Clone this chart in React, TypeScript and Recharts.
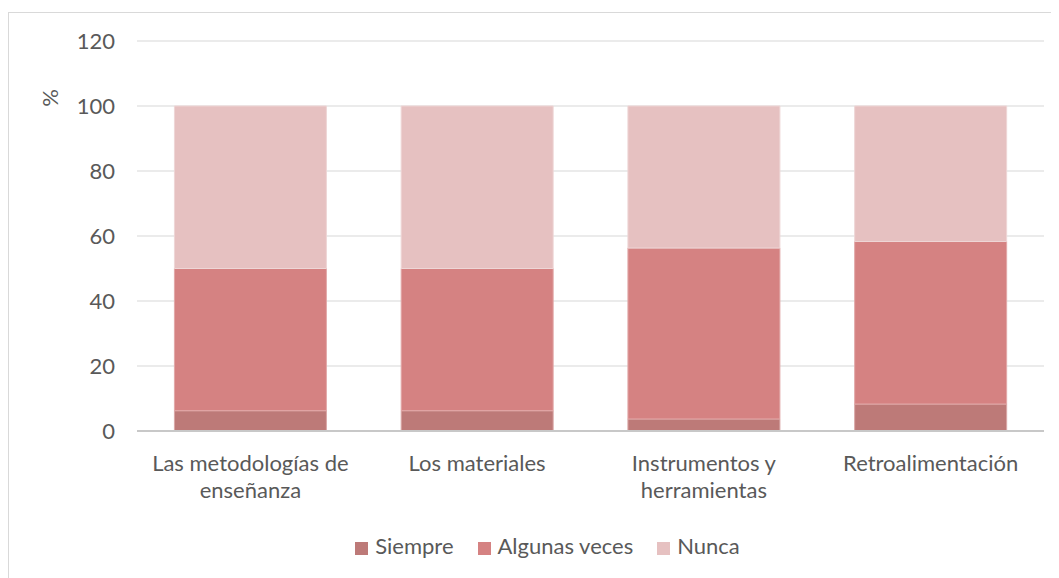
import { Bar, BarChart, CartesianGrid, Legend, XAxis, YAxis } from 'recharts'

const categories = ['Las metodologías de enseñanza', 'Los materiales', 'Instrumentos y herramientas', 'Retroalimentación']
const siempre = [6.25, 6.25, 3.7, 8.3]
const algunasVeces = [43.75, 43.75, 52.6, 50]
const nunca = [50, 50, 43.7, 41.7]
const yTicks = [0, 20, 40, 60, 80, 100, 120]
const seriesNames = ['Siempre', 'Algunas veces', 'Nunca']

const data = categories.map((name, i) => ({
  name,
  siempre: siempre[i],
  algunas: algunasVeces[i],
  nunca: nunca[i],
}))

const FONT = 'Lato, "Open Sans", sans-serif'
const TEXT = '#595959'
const FS = 22

function CategoryTick({ x, y, payload }: any) {
  const words = String(payload.value).split(' ')
  // wrap like Excel: keep lines short enough for the category slot
  const lines: string[] = []
  let cur = ''
  for (const w of words) {
    const next = cur ? `${cur} ${w}` : w
    if (next.length > 19 && cur) {
      lines.push(cur)
      cur = w
    } else cur = next
  }
  if (cur) lines.push(cur)
  return (
    <text x={x} y={y} textAnchor="middle" fill={TEXT} fontSize={FS} fontFamily={FONT}>
      {lines.map((l, i) => (
        <tspan key={i} x={x} dy={i === 0 ? 32 : 27}>
          {l}
        </tspan>
      ))}
    </text>
  )
}

function PercentLabel({ viewBox }: any) {
  const x = viewBox.x + 49
  const y = viewBox.y + 57
  return (
    <text x={x} y={y} transform={`rotate(-90 ${x} ${y})`} textAnchor="middle" fill={TEXT} fontSize={FS} fontFamily={FONT}>
      %
    </text>
  )
}

export default function App() {
  return (
    <div style={{ marginTop: 4, width: 1058, height: 580, border: '1px solid #d9d9d9', background: '#fff' }}>
      <BarChart
        width={1050}
        height={566}
        data={data}
        margin={{ top: 28, right: 15, left: 0, bottom: 20 }}
        barCategoryGap="16.5%"
      >
        <CartesianGrid vertical={false} stroke="#e4e4e4" strokeWidth={1.5} />
        <XAxis
          dataKey="name"
          height={101}
          tick={<CategoryTick />}
          tickLine={false}
          axisLine={{ stroke: '#c8c8c8', strokeWidth: 2 }}
          interval={0}
        />
        <YAxis
          width={128}
          domain={[0, 120]}
          ticks={yTicks}
          tickLine={false}
          tickSize={0}
          tickMargin={22}
          axisLine={false}
          tick={{ fill: TEXT, fontSize: FS, fontFamily: FONT }}
          label={<PercentLabel />}
        />
        <Legend
          verticalAlign="bottom"
          iconType="square"
          iconSize={13}
          itemSorter={(item: any) => seriesNames.indexOf(item.value)}
          wrapperStyle={{ fontFamily: FONT, fontSize: FS, color: TEXT, paddingLeft: 66, boxSizing: 'border-box' }}
          formatter={(v) => <span style={{ color: TEXT, marginLeft: 3, marginRight: 14 }}>{v}</span>}
        />
        <Bar dataKey="siempre" name="Siempre" stackId="a" fill="#bd7a78" stroke="#d9a8a6" strokeWidth={1} isAnimationActive={false} />
        <Bar dataKey="algunas" name="Algunas veces" stackId="a" fill="#d58282" stroke="#e2a9a9" strokeWidth={1} isAnimationActive={false} />
        <Bar dataKey="nunca" name="Nunca" stackId="a" fill="#e6c1c1" stroke="#eed6d6" strokeWidth={1} isAnimationActive={false} />
      </BarChart>
    </div>
  )
}
